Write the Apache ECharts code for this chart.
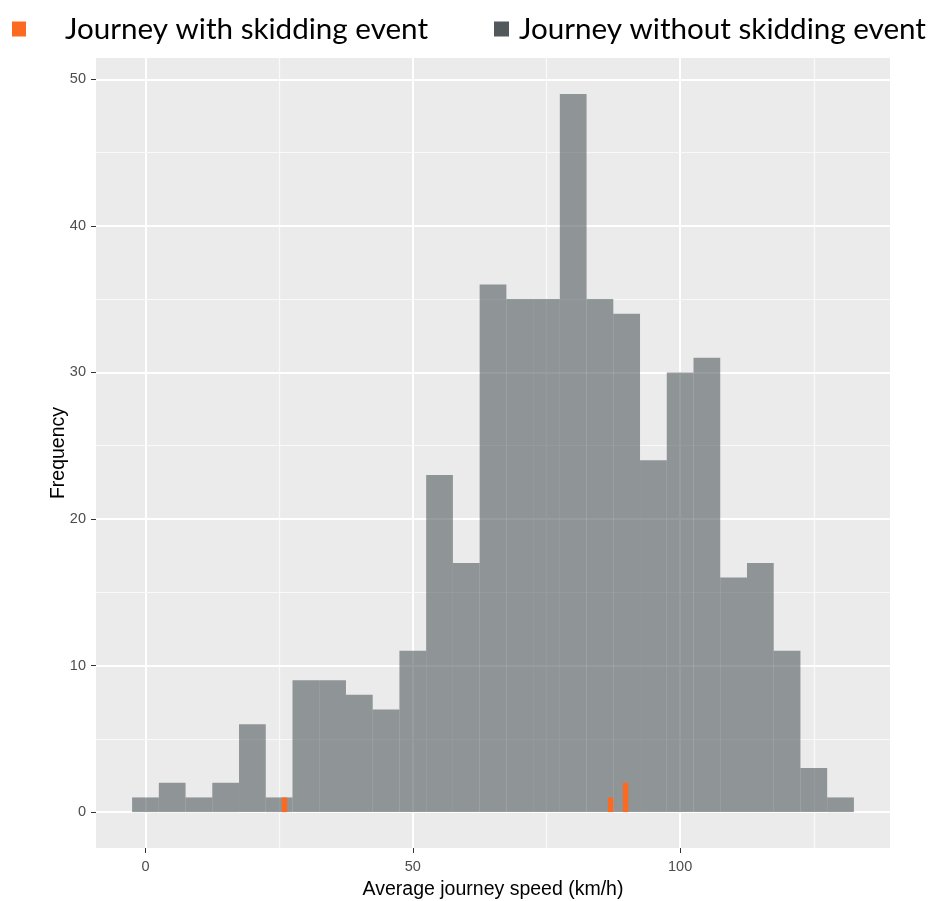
<!DOCTYPE html>
<html><head><meta charset="utf-8">
<script src="https://cdn.jsdelivr.net/npm/echarts@6/dist/echarts.min.js"></script>
<style>html,body{margin:0;padding:0;background:#fff}#c{width:930px;height:901px}</style>
</head><body><div id="c"></div>
<script>
// Histogram of average journey speed (bin width 5 km/h, centred on multiples of 5)
const binCenters = [0,5,10,15,20,25,30,35,40,45,50,55,60,65,70,75,80,85,90,95,100,105,110,115,120,125,130];
const binCounts  = [1,2,1,2,6,1,9,9,8,7,11,23,17,36,35,35,49,35,34,24,30,31,16,17,11,3,1];
const binWidth = 5;
// Journeys with a skidding event (narrow bins)
const skidSpeeds = [26, 87, 89.8];
const skidCounts = [1, 1, 2];
const skidWidth = 1;
// Axis ticks
const xTicks = [0, 50, 100];
const xMinor = [25, 75, 125];
const yTicks = [0, 10, 20, 30, 40, 50];
const yMinor = [5, 15, 25, 35, 45];

const seriesWith = 'Journey with skidding event';
const seriesWithout = 'Journey without skidding event';

function histItem(width) {
  return function (params, api) {
    const x = api.value(0), y = api.value(1);
    const p0 = api.coord([x - width / 2, 0]);
    const p1 = api.coord([x + width / 2, y]);
    return {
      type: 'rect',
      shape: { x: p0[0], y: p1[1], width: p1[0] - p0[0], height: p0[1] - p1[1] },
      style: { fill: api.visual('color') }
    };
  };
}

const major = { type: 'solid', width: 2, color: '#ffffff' };
const minor = { type: 'solid', width: 1.2, color: '#f9f9f9' };
const gridLines = []
  .concat(xTicks.map(v => ({ xAxis: v, lineStyle: major })))
  .concat(xMinor.map(v => ({ xAxis: v, lineStyle: minor })))
  .concat(yTicks.map(v => ({ yAxis: v, lineStyle: major })))
  .concat(yMinor.map(v => ({ yAxis: v, lineStyle: minor })));

const legendFont = { fontFamily: 'Lato', fontSize: 29.6, color: '#000' };
const tickFont = { color: '#4d4d4d', fontFamily: 'Liberation Sans', fontSize: 14.5 };
const titleFont = { fontFamily: 'Liberation Sans', fontSize: 19.5, color: '#000' };

const chart = echarts.init(document.getElementById('c'), null, { renderer: 'canvas' });
chart.setOption({
  animation: false,
  backgroundColor: '#ffffff',
  grid: { left: 96, right: 40, top: 58, bottom: 53, outerBoundsMode: 'none', containLabel: false,
          show: true, backgroundColor: '#ebebeb', borderWidth: 0 },
  legend: [
    { data: [{ name: seriesWith, itemStyle: { color: '#fc6a21', opacity: 1 } }],
      left: 7, top: 9, itemWidth: 14, itemHeight: 15, icon: 'rect', selectedMode: false,
      textStyle: Object.assign({ padding: [0, 0, 0, 34] }, legendFont) },
    { data: [{ name: seriesWithout, itemStyle: { color: '#51595d', opacity: 1 } }],
      left: 489, top: 9, itemWidth: 15, itemHeight: 15, icon: 'rect', selectedMode: false,
      textStyle: Object.assign({ padding: [0, 0, 0, 5] }, legendFont) }
  ],
  xAxis: {
    type: 'value', min: -9.25, max: 139.25,
    name: 'Average journey speed (km/h)', nameLocation: 'middle', nameGap: 32, nameMoveOverlap: false,
    nameTextStyle: titleFont,
    axisLine: { show: false, onZero: false },
    axisTick: { show: true, customValues: xTicks, length: 5, lineStyle: { color: '#333', width: 1 } },
    axisLabel: Object.assign({ customValues: xTicks, margin: 11 }, tickFont),
    splitLine: { show: false }
  },
  yAxis: {
    type: 'value', min: -2.45, max: 51.45,
    name: 'Frequency', nameLocation: 'middle', nameGap: 27, nameRotate: 90, nameMoveOverlap: false,
    nameTextStyle: titleFont,
    axisLine: { show: false, onZero: false },
    axisTick: { show: true, customValues: yTicks, length: 5, lineStyle: { color: '#333', width: 1 } },
    axisLabel: Object.assign({ customValues: yTicks, margin: 10 }, tickFont),
    splitLine: { show: false }
  },
  series: [
    { type: 'line', name: '_grid', data: [], silent: true, z: 1,
      markLine: { silent: true, z: 1, symbol: 'none', label: { show: false }, animation: false, data: gridLines } },
    { type: 'custom', name: seriesWithout, z: 2,
      itemStyle: { color: 'rgba(82,90,95,0.6)' },
      renderItem: histItem(binWidth), encode: { x: 0, y: 1 },
      data: binCenters.map((c, i) => [c, binCounts[i]]) },
    { type: 'custom', name: seriesWith, z: 3,
      itemStyle: { color: '#fc6a21' },
      renderItem: histItem(skidWidth), encode: { x: 0, y: 1 },
      data: skidSpeeds.map((c, i) => [c, skidCounts[i]]) }
  ]
});
</script>
</body></html>
